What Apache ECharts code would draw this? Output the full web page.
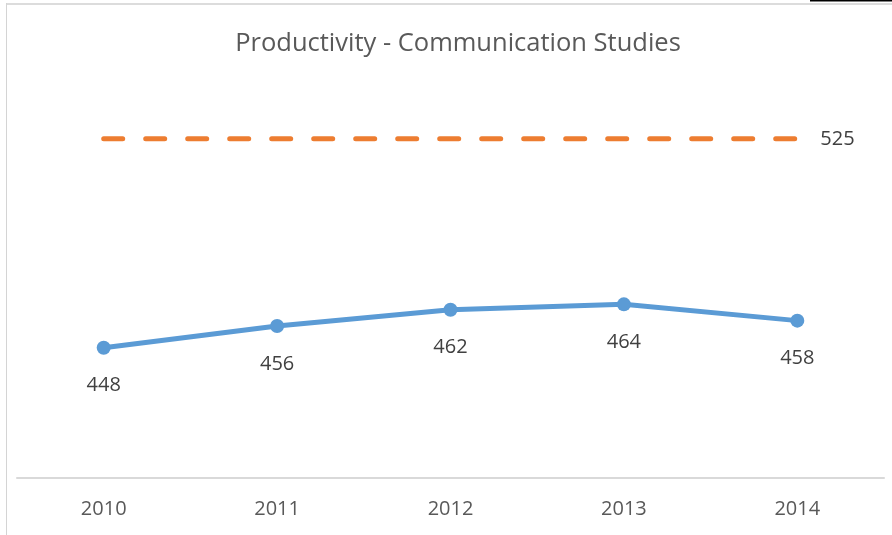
<!DOCTYPE html>
<html>
<head>
<meta charset="utf-8">
<script src="https://cdn.jsdelivr.net/npm/echarts@6/dist/echarts.min.js"></script>
<style>
html,body{margin:0;padding:0;background:#fff;}
#chart{width:892px;height:535px;}
</style>
</head>
<body>
<div id="chart"></div>
<script>
const categories = ['2010', '2011', '2012', '2013', '2014'];
const productivity = [448, 456, 462, 464, 458];
const target = [525, 525, 525, 525, 525];
const chartTitle = 'Productivity - Communication Studies';

const chart = echarts.init(document.getElementById('chart'));
const FONT = 'Open Sans';
chart.setOption({
  animation: false,
  backgroundColor: '#ffffff',
  title: {
    text: chartTitle,
    left: 453,
    textAlign: 'center',
    top: 26,
    textStyle: { fontFamily: FONT, fontSize: 25.5, fontWeight: 'normal', color: '#595959' }
  },
  graphic: [
    { type: 'rect', shape: { x: 6, y: 3, width: 886, height: 2 }, style: { fill: '#dcdcdc' } },
    { type: 'rect', shape: { x: 6, y: 3, width: 1, height: 532 }, style: { fill: '#d4d4d4' } },
    { type: 'rect', shape: { x: 810, y: 0, width: 82, height: 1.5 }, style: { fill: '#000000' } }
  ],
  grid: { left: 17, right: 8, top: 71, bottom: 57 },
  xAxis: {
    type: 'category',
    data: categories,
    boundaryGap: true,
    axisLine: { lineStyle: { color: '#d9d9d9', width: 2 } },
    axisTick: { show: false },
    axisLabel: { fontFamily: FONT, fontSize: 20, color: '#595959', margin: 21 }
  },
  yAxis: {
    type: 'value',
    min: 400,
    max: 550,
    show: false,
    splitLine: { show: false }
  },
  series: [
    {
      type: 'line',
      data: productivity,
      lineStyle: { color: '#5B9BD5', width: 5 },
      itemStyle: { color: '#5B9BD5' },
      symbol: 'circle',
      symbolSize: 14,
      label: {
        show: true,
        position: 'bottom',
        distance: 21,
        fontFamily: FONT,
        fontSize: 20,
        color: '#404040'
      }
    },
    {
      type: 'line',
      data: target,
      symbol: 'none',
      lineStyle: { color: '#ED7D31', width: 5, type: [19, 23], cap: 'round' },
      endLabel: {
        show: true,
        distance: 23,
        fontFamily: FONT,
        fontSize: 20,
        color: '#404040'
      }
    }
  ]
});
</script>
</body>
</html>
